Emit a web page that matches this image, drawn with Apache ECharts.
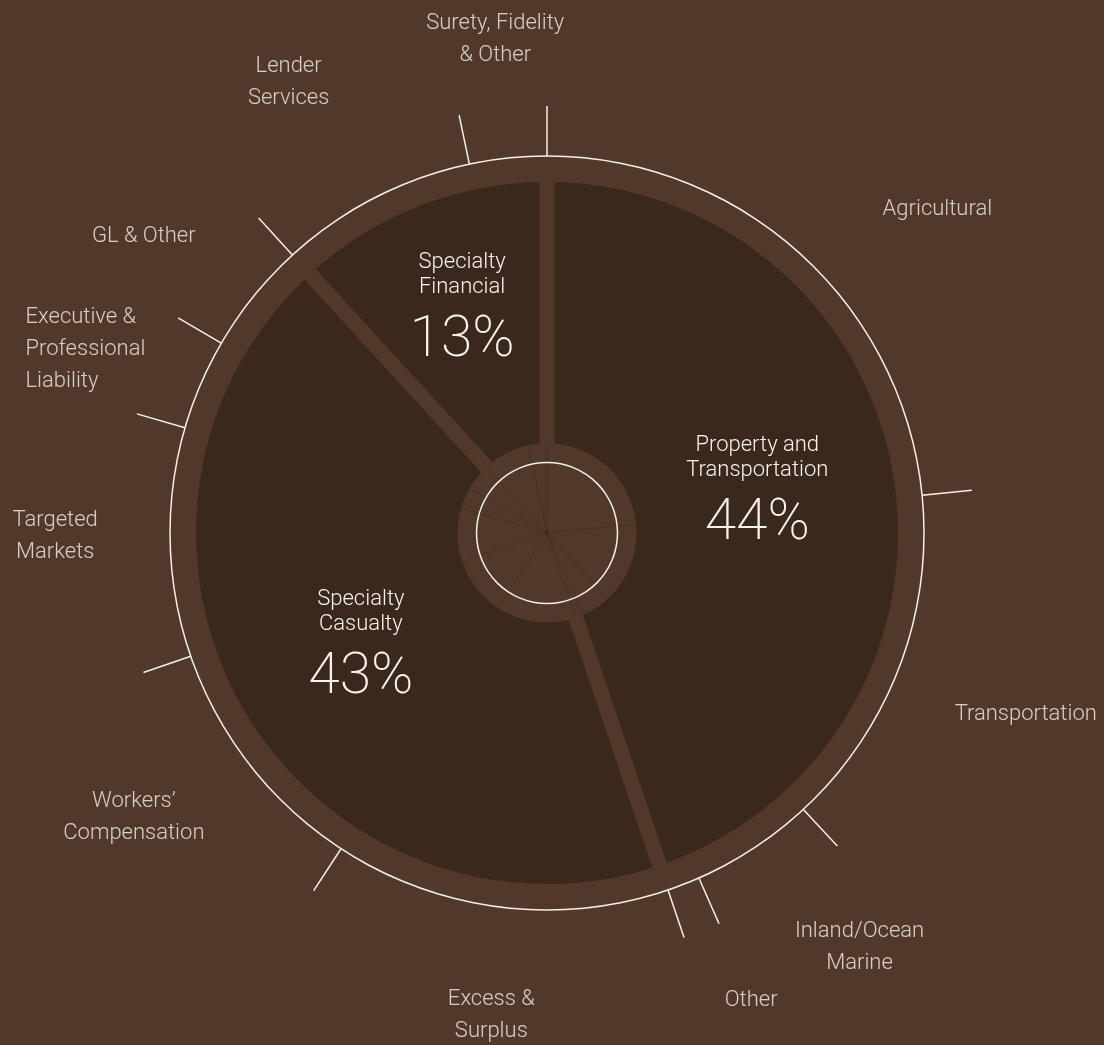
<!DOCTYPE html>
<html>
<head>
<meta charset="utf-8">
<script src="https://cdn.jsdelivr.net/npm/echarts@6/dist/echarts.min.js"></script>
<style>
html,body{margin:0;padding:0;background:#51382b;}
#chart{width:1104px;height:1045px;}
</style>
</head>
<body>
<div id="chart"></div>
<script>
// ---- data ----
const subNames = [
  'Agricultural', 'Transportation', 'Inland/Ocean\nMarine', 'Other',
  'Excess &\nSurplus', 'Workers\u2019\nCompensation', 'Targeted\nMarkets',
  'Executive &\nProfessional\nLiability', 'GL & Other',
  'Lender\nServices', 'Surety, Fidelity\n& Other'
];
const subValues = [23.4, 14.7, 5.3, 1.4, 14.4, 10.5, 9.8, 3.9, 4.8, 8.5, 3.3];
const subGroup  = [0, 0, 0, 0, 1, 1, 1, 1, 1, 2, 2];
const segNames  = ['Property and\nTransportation', 'Specialty\nCasualty', 'Specialty\nFinancial'];
const segShares = ['44%', '43%', '13%'];

// ---- style ----
const BG = '#51382b', DARK = '#3b281c', INK = '#f6f2ed', LINE = '#f4efe9', FAINT = 'rgba(38,24,15,0.22)';
const FONT = 'Roboto';
const CX = 547, CY = 533;
const labelNudge = [[55,47],[11,5],[38,-3],[23,1],[7,-14],[-19,-23],[8,-9],[-62,14],[-14,17],[-30,-6],[0,4]];
const segPadding = [[6, 20, 0, 0], [14, 0, 0, 12], [0, 8, 16, 0]];

// ---- derived ----
const segValues = segNames.map((_, g) => subValues.reduce((s, v, i) => s + (subGroup[i] === g ? v : 0), 0));
const bounds = [];
let acc = 0;
subValues.forEach(v => { bounds.push(acc); acc += v; });
const mids = subValues.map((v, i) => bounds[i] + v / 2);

function radialLine(r0, r1, color, width) {
  return function (params, api) {
    const a = api.value(1);
    const p0 = api.coord([r0, a]);
    const p1 = api.coord([r1, a]);
    return { type: 'line', shape: { x1: p0[0], y1: p0[1], x2: p1[0], y2: p1[1] },
             style: { stroke: color, lineWidth: width } };
  };
}

const txt = { color: INK, fontFamily: FONT, fontWeight: 300 };

const chart = echarts.init(document.getElementById('chart'));
chart.setOption({
  backgroundColor: BG,
  animation: false,
  polar: { center: [CX, CY], radius: 600 },
  angleAxis: { type: 'value', min: 0, max: 100, startAngle: 90, clockwise: true, show: false },
  radiusAxis: { type: 'value', min: 0, max: 600, show: false },
  series: [
    {
      type: 'pie', center: [CX, CY], radius: [82, 358.5], startAngle: 90, clockwise: true,
      silent: true, avoidLabelOverlap: false, emphasis: { disabled: true },
      itemStyle: { color: DARK, borderColor: BG, borderWidth: 15 },
      labelLine: { show: false },
      label: {
        show: true, position: 'inside',
        formatter: p => segNames[p.dataIndex].split('\n').map(s => '{n|' + s + '}').join('\n') + '\n{p|' + segShares[p.dataIndex] + '}',
        rich: {
          n: Object.assign({ fontSize: 22, lineHeight: 25 }, txt),
          p: Object.assign({}, txt, { fontSize: 57, lineHeight: 84, fontWeight: 200 })
        }
      },
      data: segNames.map((n, i) => ({ name: n, value: segValues[i], label: { padding: segPadding[i] } }))
    },
    {
      type: 'custom', coordinateSystem: 'polar', silent: true, z: 3,
      data: bounds.map(b => [0, b]),
      renderItem: radialLine(0, 89, FAINT, 1)
    },
    {
      type: 'pie', center: [CX, CY], radius: [69.75, 71.25], silent: true, z: 4,
      emphasis: { disabled: true }, label: { show: false }, labelLine: { show: false },
      itemStyle: { color: LINE }, data: [{ value: 1 }]
    },
    {
      type: 'pie', center: [CX, CY], radius: [376.25, 377.75], silent: true,
      emphasis: { disabled: true }, label: { show: false }, labelLine: { show: false },
      itemStyle: { color: LINE }, data: [{ value: 1 }]
    },
    {
      type: 'custom', coordinateSystem: 'polar', silent: true,
      data: bounds.map(b => [0, b]),
      renderItem: radialLine(377, 427, LINE, 1.5)
    },
    {
      type: 'scatter', coordinateSystem: 'polar', silent: true, symbolSize: 1,
      itemStyle: { color: 'rgba(0,0,0,0)' },
      label: Object.assign({ show: true, position: 'inside', formatter: p => p.name, fontSize: 22, lineHeight: 32 }, txt),
      data: subNames.map((n, i) => ({
        name: n, value: [500, mids[i]],
        label: { offset: labelNudge[i], align: i === 7 ? 'left' : 'center' }
      }))
    }
  ]
});
</script>
</body>
</html>
